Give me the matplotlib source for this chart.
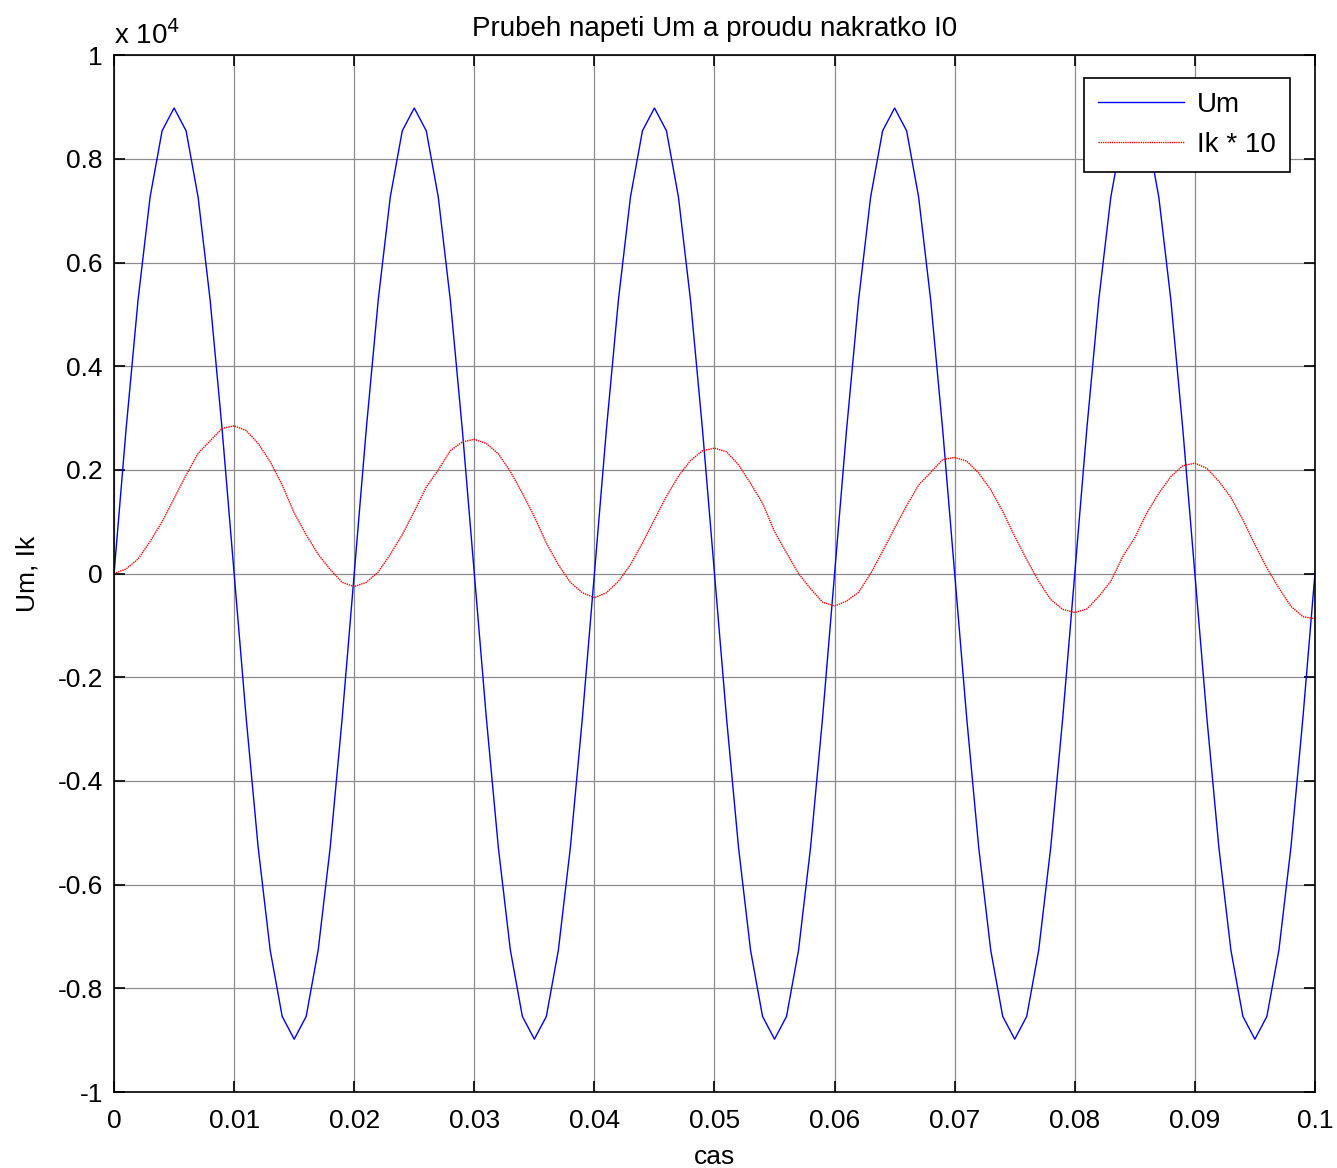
import numpy as np
import matplotlib
matplotlib.use('Agg')
import matplotlib.pyplot as plt

plt.rcParams['font.family'] = ['Liberation Sans', 'DejaVu Sans']

# time in s, sampled every 1 ms
t = np.arange(0, 101) * 0.001

# Um (V)
um = [
    0, 2780, 5280, 7260, 8540, 8980, 8540, 7260, 5280, 2780,
    0, -2780, -5280, -7260, -8540, -8980, -8540, -7260, -5280, -2780,
    0, 2780, 5280, 7260, 8540, 8980, 8540, 7260, 5280, 2780,
    0, -2780, -5280, -7260, -8540, -8980, -8540, -7260, -5280, -2780,
    0, 2780, 5280, 7260, 8540, 8980, 8540, 7260, 5280, 2780,
    0, -2780, -5280, -7260, -8540, -8980, -8540, -7260, -5280, -2780,
    0, 2780, 5280, 7260, 8540, 8980, 8540, 7260, 5280, 2780,
    0, -2780, -5280, -7260, -8540, -8980, -8540, -7260, -5280, -2780,
    0, 2780, 5280, 7260, 8540, 8980, 8540, 7260, 5280, 2780,
    0, -2780, -5280, -7260, -8540, -8980, -8540, -7260, -5280, -2780,
    0,
]

# Ik * 10
ik10 = [
    0, 90, 280, 620, 1000, 1450, 1900, 2320, 2560, 2800,
    2850, 2760, 2510, 2160, 1710, 1170, 750, 370, 80, -170,
    -250, -170, 30, 370, 750, 1200, 1670, 2000, 2370, 2540,
    2590, 2510, 2310, 1970, 1550, 1100, 590, 170, -170, -370,
    -465, -370, -150, 170, 590, 1040, 1490, 1880, 2180, 2370,
    2420, 2350, 2100, 1740, 1360, 810, 400, 0, -290, -550,
    -625, -530, -360, 0, 430, 880, 1310, 1710, 1950, 2200,
    2240, 2170, 1940, 1620, 1200, 720, 270, -150, -500, -690,
    -750, -685, -440, -150, 330, 690, 1170, 1550, 1870, 2080,
    2130, 2030, 1780, 1470, 1040, 560, 110, -280, -630, -830,
    -870,
]

scale = 1e4

fig = plt.figure(figsize=(13.37, 11.68), dpi=100)
ax = fig.add_axes([0.0853, 0.065, 0.8982, 0.8878])

ax.plot(t, np.array(um) / scale, color='b', lw=1, label='Um')
ax.plot(t, np.array(ik10) / scale, color='r', lw=1, ls=(0, (1, 0.6)), label='Ik * 10')

ax.set_xlim(0, 0.1)
ax.set_ylim(-1, 1)
ax.set_xticks(np.arange(0, 0.1001, 0.01))
ax.set_xticklabels(['0', '0.01', '0.02', '0.03', '0.04', '0.05', '0.06',
                    '0.07', '0.08', '0.09', '0.1'])
ax.set_yticks(np.arange(-1, 1.001, 0.2))
ax.set_yticklabels(['-1', '-0.8', '-0.6', '-0.4', '-0.2', '0', '0.2',
                    '0.4', '0.6', '0.8', '1'])

ax.grid(True, color='0.55', lw=0.9)
ax.tick_params(direction='in', length=8, width=1.2, top=True, right=True,
               labelsize=19)
ax.tick_params(axis='x', pad=12)
ax.tick_params(axis='y', pad=8)
for s in ax.spines.values():
    s.set_linewidth(1.2)

ax.set_title('Prubeh napeti Um a proudu nakratko I0', fontsize=20, pad=14)
ax.set_xlabel('cas', fontsize=19, labelpad=9)
ax.set_ylabel('Um, Ik', fontsize=19, labelpad=13)
ax.text(0, 1.005, r'x 10$^4$', transform=ax.transAxes, fontsize=20,
        ha='left', va='bottom')

leg = ax.legend(loc='upper right', bbox_to_anchor=(0.979, 0.978), fontsize=20,
                fancybox=False, framealpha=1, edgecolor='k', handlelength=3.1,
                handletextpad=0.45, borderpad=0.5, labelspacing=0.5,
                borderaxespad=0)
leg.get_frame().set_linewidth(1.2)

fig.savefig('out.png', dpi=100)
